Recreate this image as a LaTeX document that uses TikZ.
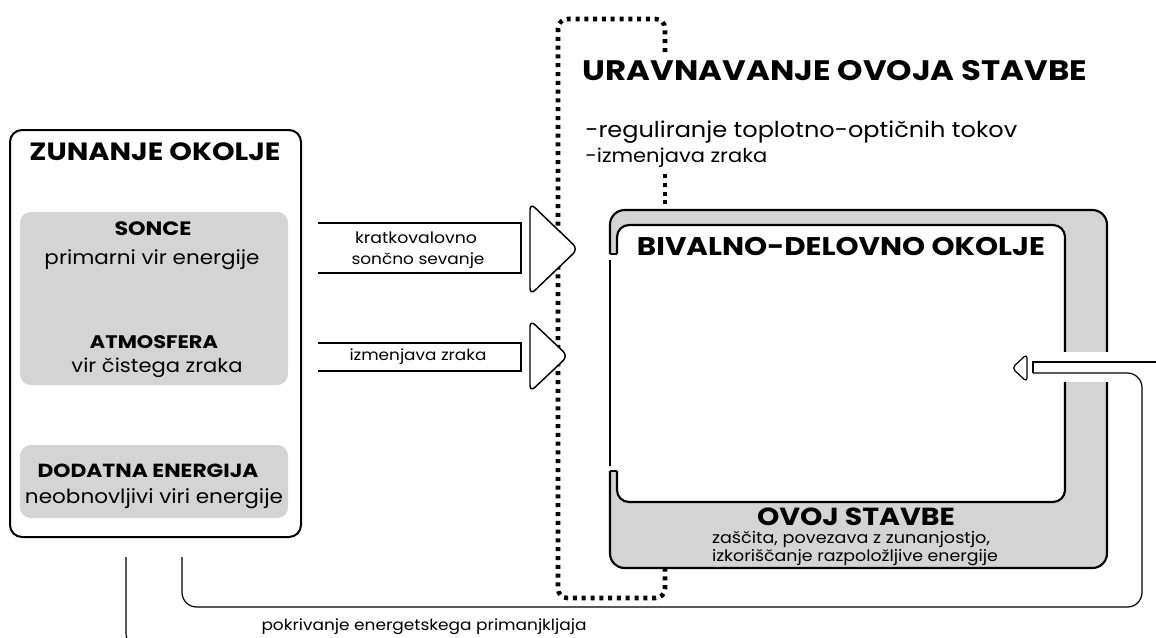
\documentclass[tikz,border=0pt]{standalone}
\usepackage{fontspec}
\usepackage{graphicx}
\setmainfont{Poppins}
\definecolor{panel}{RGB}{212,212,212}
% one drawing unit is 0.75pt
\newdimen\pxu \pxu=0.75pt
% set a text to a given width (in drawing units); the letters are widened first
% so that the text keeps a moderate height
\newcommand\fitw[2]{\resizebox{#1\pxu}{!}{\scalebox{1.1}[1]{#2}}}
\newcommand\fitb[2]{\resizebox{#1\pxu}{!}{\scalebox{1.15}[1]{#2}}}
\begin{document}
\begin{tikzpicture}[x=0.75pt,y=-0.75pt,
  frame/.style={draw=black,line width=1.5pt,rounded corners=9pt},
  panelbox/.style={fill=panel,rounded corners=8pt},
  txt/.style={inner sep=0pt,anchor=base,font=\fontsize{12}{14}\selectfont},
  btxt/.style={txt,font=\bfseries\fontsize{12}{14}\selectfont},
  shaft/.style={draw=black,line width=1.1pt},
  pipe/.style={draw=black,line width=0.9pt},
  dots/.style={line width=3.4pt,dash pattern=on 3pt off 3.6pt},
  tip/.style={draw=black,fill=white,line width=1.1pt,rounded corners=5pt,line join=round},
]
\useasboundingbox (0,0) rectangle (1156,637);
\clip (0,0) rectangle (1156,637);

% ---------- outside environment ----------
\draw[frame] (10,130) coordinate (outNW) rectangle (301,537) coordinate (outSE);
\node[btxt] (zo) at (155,160) {\fitb{251}{ZUNANJE OKOLJE}};
\fill[panelbox] (20,212) rectangle (288,385);
\node[btxt] (sonce) at (153,235) {\fitb{77}{SONCE}};
\node[txt] (sonceT) at (152,264) {\fitw{215}{primarni vir energije}};
\node[btxt] (atm) at (154,348) {\fitb{128}{ATMOSFERA}};
\node[txt] (atmT) at (157,372) {\fitw{171}{vir čistega zraka}};
\fill[panelbox] (20,445) rectangle (288,518);
\node[btxt] (dod) at (148,477) {\fitb{221}{DODATNA ENERGIJA}};
\node[txt] (dodT) at (154,503) {\fitw{258}{neobnovljivi viri energije}};

% ---------- control of the envelope (dotted loop) ----------
\draw[dots,rounded corners=7pt] (665,52) -- (665,19) -- (558,19) -- (558,598) -- (665,598) -- (665,569);
\draw[dots] (665,174) -- (665,209);
\node[btxt] (urav) at (835,80) {\fitb{504}{URAVNAVANJE OVOJA STAVBE}};
\node[txt,anchor=base west] (reg1) at (585,137) {\fitw{432}{-reguliranje toplotno-optičnih tokov}};
\node[txt,anchor=base west] (reg2) at (585,162) {\fitw{182}{-izmenjava zraka}};

% ---------- flows into the building ----------
\draw[shaft] (318,223) -- (521,223) -- (521,273) -- (318,273);
\node[txt] (lab1a) at (416,243) {\fitw{122}{kratkovalovno}};
\node[txt] (lab1b) at (418,264) {\fitw{133}{sončno sevanje}};
\draw[tip] (530,203) -- (578,249) -- (530,295) -- cycle;

\draw[shaft] (318,343) -- (521,343) -- (521,371) -- (318,371);
\node[txt] (lab2) at (418,360) {\fitw{137}{izmenjava zraka}};
\draw[tip] (530,320) -- (568,356) -- (530,392) -- cycle;

% ---------- building envelope and living space ----------
\draw[line width=1.6pt,fill=panel,rounded corners=11pt] (610,210) rectangle (1107,568);
\draw[line width=1.6pt,fill=white,rounded corners=9pt] (617,225) rectangle (1065,502);
% opening in the left wall
\fill[white] (606,254) rectangle (621,471);
\draw[line width=1.1pt] (610,254) -- (617,254) (610,471) -- (617,471);
\draw[line width=0.9pt] (610,260) -- (610,466);
% opening in the right wall
\fill[white] (1061,352) rectangle (1111,382);
\node[btxt] (biv) at (841,255) {\fitb{408}{BIVALNO-DELOVNO OKOLJE}};
\node[btxt] (ovoj) at (856,525) {\fitb{198}{OVOJ STAVBE}};
\node[txt] (ovoj1) at (851,543) {\fitw{278}{zaščita, povezava z zunanjostjo,}};
\node[txt] (ovoj2) at (855,561) {\fitw{286}{izkoriščanje razpoložljive energije}};

% ---------- supply of additional energy ----------
\coordinate (pipeTop) at (1160,362);
\coordinate (pipeEnd) at (1033,373);
\draw[pipe] (pipeTop) -- (1033,362) -- (pipeEnd);
\draw[pipe,rounded corners=11pt] (pipeEnd) -- (1142,373) -- (1142,607) -- (182,607) -- (182,557);
\draw[tip,line width=0.9pt,rounded corners=3pt] (1027,354) -- (1012,368) -- (1027,382) -- cycle;
\draw[pipe,rounded corners=11pt] (126,557) -- (126,648) -- (400,648);
\node[txt] (pokr) at (424,630) {\fitw{325}{pokrivanje energetskega primanjkljaja}};
\end{tikzpicture}
\end{document}
